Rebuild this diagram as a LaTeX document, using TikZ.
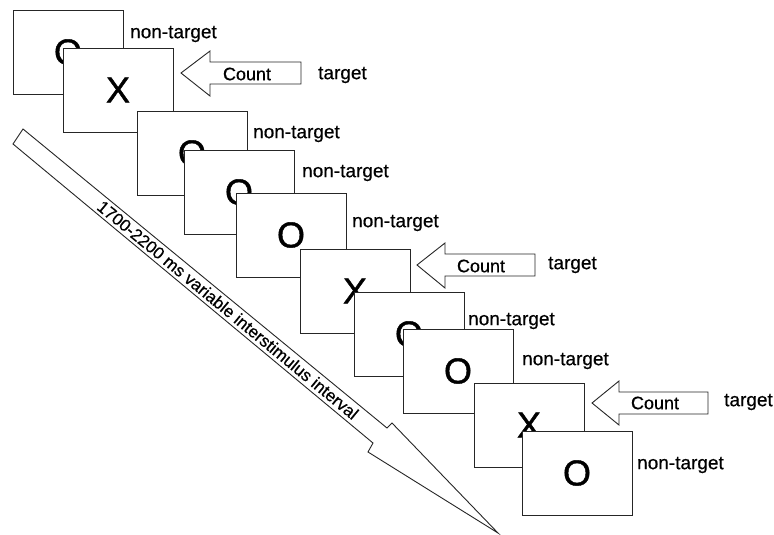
\documentclass[tikz,border=0pt]{standalone}
\usepackage{fontspec}
\setmainfont{Liberation Sans}[FakeBold=0.6]
\newfontfamily\stimfont{Liberation Sans}[FakeBold=1.2]
\usetikzlibrary{calc}
\begin{document}
\begin{tikzpicture}[x=1pt,y=-1pt,
  stim/.style={draw=black!85, line width=0.9pt, fill=white, minimum width=110pt, minimum height=84pt,
               anchor=north west, inner sep=0pt, outer sep=0pt, font=\stimfont\fontsize{36}{40}\selectfont},
  lab/.style={anchor=west, inner sep=0pt, font=\fontsize{19}{22}\selectfont},
  cnt/.style={inner sep=0pt, font=\fontsize{18}{20}\selectfont},
  arr/.style={draw=black!85, line width=0.9pt, fill=white, line join=miter},
  sloped text/.style={sloped, inner sep=0pt, font=\fontsize{17}{19}\selectfont}
]
\useasboundingbox (0,0) rectangle (774,535);

% time arrow
\coordinate (ta) at (23,129);
\coordinate (tb) at (13,144);
\coordinate (su) at (387,428);
\coordinate (hu) at (392,423);
\coordinate (tip) at (498,533);
\coordinate (hl) at (368,452);
\coordinate (sl) at (373,443);
\draw[arr] (ta) -- (su) -- (hu) -- (tip) -- (hl) -- (sl) -- (tb) -- cycle;
\path ($(ta)!0.5!(tb)$) -- ($(su)!0.5!(sl)$)
  node[sloped text, pos=0.58] (isi) {1700-2200 ms variable interstimulus interval};

% stimuli
\node[stim] (s1) at (13,10) {O};
\node[stim] (s2) at (63,48) {X};
\node[stim] (s3) at (137,111) {O};
\node[stim] (s4) at (184,150) {O};
\node[stim] (s5) at (236,193) {O};
\node[stim] (s6) at (300,249) {X};
\node[stim] (s7) at (354,292) {O};
\node[stim] (s8) at (403,329) {O};
\node[stim] (s9) at (474,383) {X};
\node[stim] (s10) at (522,431) {O};

% labels
\node[lab] (n1) at (130,34) {non-target};
\node[lab] (n3) at (253,134) {non-target};
\node[lab] (n4) at (302,173) {non-target};
\node[lab] (n5) at (352,223) {non-target};
\node[lab] (n7) at (468,321) {non-target};
\node[lab] (n8) at (522,361) {non-target};
\node[lab] (n10) at (637,465) {non-target};

% count arrows
\draw[arr] (181,73) -- (210,51) -- (210,62) -- (301,62) -- (301,84) -- (210,84) -- (210,96) -- cycle;
\node[cnt] (c2) at (247,74) {Count};
\node[lab] (t2) at (318,75) {target};

\draw[arr] (417,265) -- (445,243) -- (445,254) -- (535,254) -- (535,276) -- (445,276) -- (445,288) -- cycle;
\node[cnt] (c6) at (481,266) {Count};
\node[lab] (t6) at (548,265) {target};

\draw[arr] (592,403) -- (619,381) -- (619,392) -- (708,392) -- (708,414) -- (619,414) -- (619,425) -- cycle;
\node[cnt] (c9) at (655,403) {Count};
\node[lab] (t9) at (724,402) {target};
\end{tikzpicture}
\end{document}
